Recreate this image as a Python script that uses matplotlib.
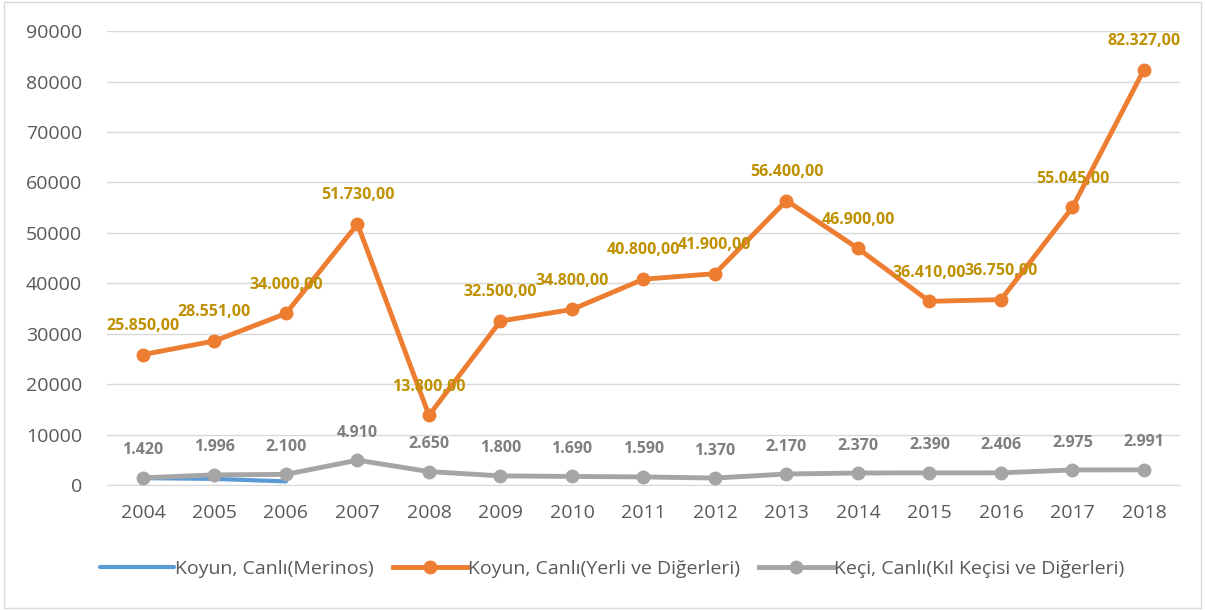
import matplotlib
matplotlib.use('Agg')
import matplotlib.pyplot as plt
from matplotlib.patches import Rectangle

plt.rcParams['font.family'] = ['Open Sans', 'DejaVu Sans']

years = ['2004', '2005', '2006', '2007', '2008', '2009', '2010', '2011',
         '2012', '2013', '2014', '2015', '2016', '2017', '2018']
merinos = [1350, 1200, 700]
yerli = [25850, 28551, 34000, 51730, 13800, 32500, 34800, 40800,
         41900, 56400, 46900, 36410, 36750, 55045, 82327]
keci = [1420, 1996, 2100, 4910, 2650, 1800, 1690, 1590,
        1370, 2170, 2370, 2390, 2406, 2975, 2991]


def tr_fmt(v, dec):
    s = f"{v:,.{dec}f}"
    return s.replace(',', 'X').replace('.', ',').replace('X', '.')


fig = plt.figure(figsize=(12.05, 6.10), dpi=100)
ax = fig.add_axes([0.089, 0.205, 0.89, 0.744])

x = list(range(len(years)))
ax.plot(x[:len(merinos)], merinos, color='#5B9BD5', lw=3, solid_capstyle='round',
        label='Koyun, Canlı(Merinos)', zorder=3)
ax.plot(x, yerli, color='#ED7D31', lw=3.5, marker='o', ms=9,
        label='Koyun, Canlı(Yerli ve Diğerleri)', zorder=4)
ax.plot(x, keci, color='#A5A5A5', lw=3.5, marker='o', ms=9,
        label='Keçi, Canlı(Kıl Keçisi ve Diğerleri)', zorder=4)

for i, v in enumerate(yerli):
    ax.annotate(tr_fmt(v, 2), (i, v), xytext=(0, 15), textcoords='offset points',
                ha='center', va='bottom', fontsize=11.5, fontweight='bold',
                color='#BF9000', zorder=5)
for i, v in enumerate(keci):
    ax.annotate(tr_fmt(v, 0), (i, v), xytext=(0, 14), textcoords='offset points',
                ha='center', va='bottom', fontsize=11.5, fontweight='bold',
                color='#7F7F7F', zorder=5)

ax.set_xlim(-0.5, len(years) - 0.5)
ax.set_ylim(0, 90000)
ax.set_yticks(range(0, 90001, 10000))
ax.set_xticks(x)
ax.set_xticklabels(years)
ax.tick_params(axis='both', length=0, labelsize=14, colors='#595959')
ax.tick_params(axis='x', pad=14)
ax.tick_params(axis='y', pad=18)
ax.grid(axis='y', color='#D9D9D9', lw=1)
ax.set_axisbelow(True)
for sp in ['top', 'right', 'left']:
    ax.spines[sp].set_visible(False)
ax.spines['bottom'].set_color('#D9D9D9')

fig.legend(loc='center', bbox_to_anchor=(0.508, 0.067), ncol=3, frameon=False,
           fontsize=14, labelcolor='#595959', handlelength=3.8,
           handletextpad=0.05, columnspacing=1.0)

fig.patches.append(Rectangle((0.003, 0.003), 0.994, 0.994, transform=fig.transFigure,
                             fill=False, edgecolor='#D9D9D9', lw=1))

fig.savefig('out.png', dpi=100)
